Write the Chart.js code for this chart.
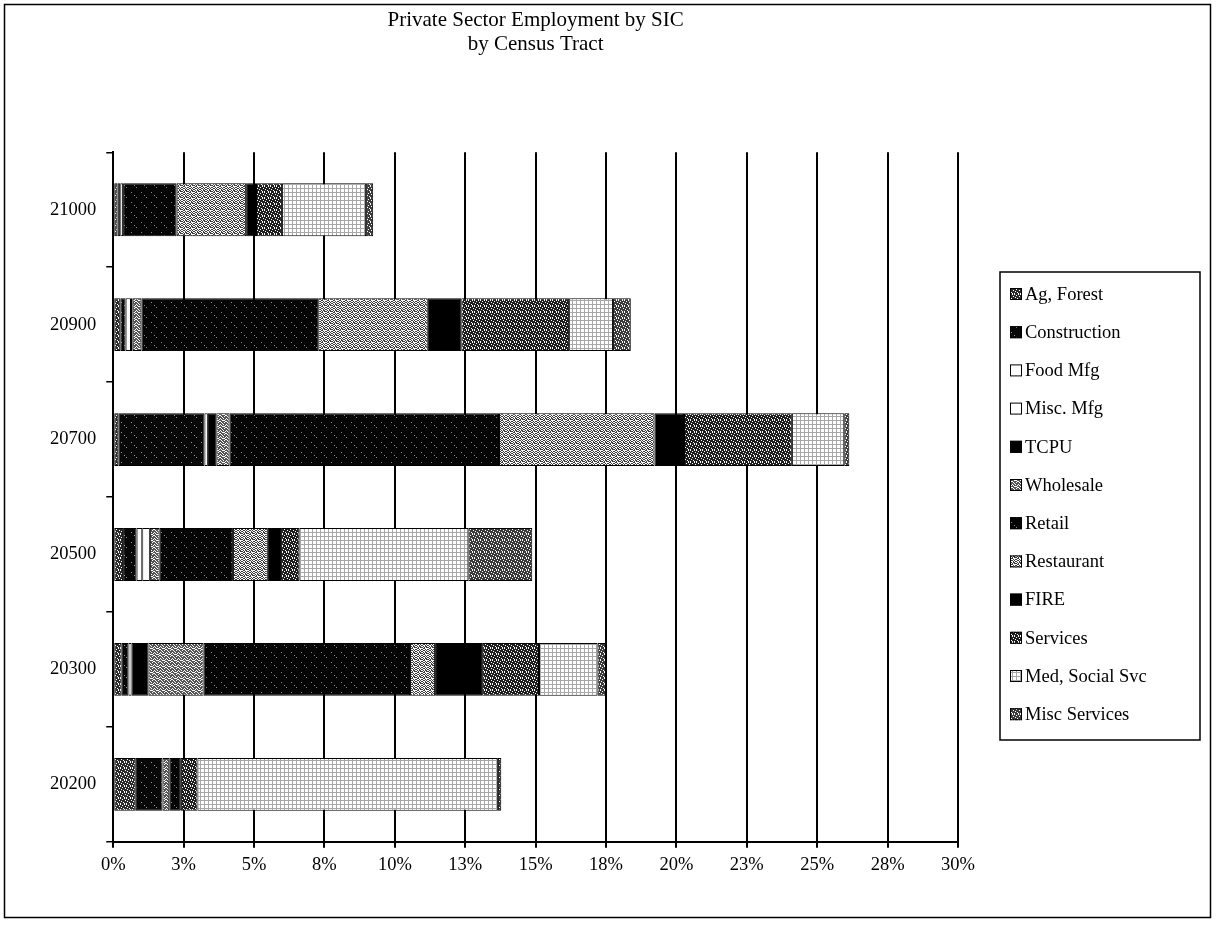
<!DOCTYPE html>
<html>
<head>
<meta charset="utf-8">
<script src="https://cdn.jsdelivr.net/npm/chart.js@4"></script>
<style>
  html, body { margin: 0; padding: 0; background: #fff; }
  #wrap { width: 1216px; height: 927px; }
</style>
</head>
<body>
<div id="wrap"><canvas id="graph-viewer" width="1216" height="927"></canvas></div>
<script>
// census tracts, top to bottom
const categories = ['21000', '20900', '20700', '20500', '20300', '20200'];
const tickLabels = ['0%', '3%', '5%', '8%', '10%', '13%', '15%', '18%', '20%', '23%', '25%', '28%', '30%'];

// share of private sector employment (%) by SIC group
const agForest     = [0.15, 0.25, 0.18, 0.35, 0.30, 0.80];
const construction = [0.10, 0.19, 3.06, 0.48, 0.24, 0.95];
const foodMfg      = [0.10, 0.19, 0.12, 0.20, 0.11, 0.00];
const miscMfg      = [0.00, 0.00, 0.00, 0.27, 0.00, 0.00];
const tcpu         = [0.00, 0.06, 0.30, 0.00, 0.60, 0.00];
const wholesale    = [0.00, 0.31, 0.47, 0.35, 1.96, 0.24];
const retail       = [1.90, 6.28, 9.57, 2.60, 7.33, 0.41];
const restaurant   = [2.47, 3.89, 5.52, 1.24, 0.89, 0.00];
const fire         = [0.35, 1.19, 1.05, 0.47, 1.67, 0.00];
const services     = [0.92, 3.83, 3.83, 0.65, 2.02, 0.59];
const medSocial    = [2.99, 1.56, 1.86, 6.00, 2.08, 10.67];
const miscServices = [0.25, 0.63, 0.18, 2.27, 0.30, 0.12];

const seriesNames = ['Ag, Forest', 'Construction', 'Food Mfg', 'Misc. Mfg', 'TCPU', 'Wholesale',
  'Retail', 'Restaurant', 'FIRE', 'Services', 'Med, Social Svc', 'Misc Services'];
const seriesData = [agForest, construction, foodMfg, miscMfg, tcpu, wholesale,
  retail, restaurant, fire, services, medSocial, miscServices];

// small b/w fill patterns, like the printed original
function makePattern(bg, fg, cells, size) {
  const c = document.createElement('canvas');
  c.width = size; c.height = size;
  const g = c.getContext('2d');
  g.fillStyle = bg;
  g.fillRect(0, 0, size, size);
  g.fillStyle = fg;
  cells.forEach(p => g.fillRect(p[0], p[1], 1, 1));
  return g.createPattern(c, 'repeat');
}
function gridPattern() {
  const c = document.createElement('canvas');
  c.width = 4; c.height = 4;
  const g = c.getContext('2d');
  g.fillStyle = '#fff';
  g.fillRect(0, 0, 4, 4);
  g.fillStyle = '#a8a8a8';
  g.fillRect(0, 0, 4, 1);
  g.fillRect(0, 0, 1, 4);
  return g.createPattern(c, 'repeat');
}

const sparse = [[1, 2], [6, 7], [4, 5]];
const speckle = [[0, 0], [2, 1], [4, 0], [1, 3], [5, 2], [3, 4], [0, 5], [4, 5]];
const mottled = [[0, 0], [1, 0], [3, 1], [4, 1], [2, 2], [5, 2], [0, 3], [1, 4], [4, 4], [3, 5], [5, 5], [2, 0]];
const lightMottle = [[0, 0], [1, 0], [3, 1], [4, 1], [2, 2], [5, 2], [0, 3], [1, 4], [4, 4], [3, 5],
  [5, 5], [2, 0], [5, 0], [1, 2], [3, 3], [0, 1], [2, 4], [4, 3]];

const fills = [
  makePattern('#2a2a2a', '#ffffff', speckle, 6),
  makePattern('#080808', '#999999', sparse, 10),
  '#ffffff',
  '#ffffff',
  '#000000',
  makePattern('#555555', '#ffffff', mottled, 6),
  makePattern('#050505', '#888888', sparse, 10),
  makePattern('#3c3c3c', '#ffffff', lightMottle, 6),
  '#000000',
  makePattern('#1e1e1e', '#ffffff', speckle, 6),
  gridPattern(),
  makePattern('#3a3a3a', '#ffffff', speckle, 6)
];

const serif = "'Liberation Serif', 'DejaVu Serif', serif";

const frameAndLegend = {
  id: 'frameAndLegend',
  beforeDraw(chart) {
    const ctx = chart.ctx;
    ctx.save();
    ctx.fillStyle = '#fff';
    ctx.fillRect(0, 0, chart.width, chart.height);
    ctx.restore();
  },
  afterDraw(chart) {
    const ctx = chart.ctx;
    ctx.save();
    ctx.strokeStyle = '#000';
    ctx.lineWidth = 1.5;
    ctx.strokeRect(4.5, 4.5, 1206, 913);

    // legend box
    const lx = 1000, ly = 272, lw = 200, lh = 468;
    ctx.lineWidth = 1.5;
    ctx.strokeRect(lx, ly, lw, lh);
    ctx.font = '18.5px ' + serif;
    ctx.textBaseline = 'middle';
    chart.data.datasets.forEach((ds, i) => {
      const y = 294 + i * 38.2;
      ctx.fillStyle = ds.backgroundColor;
      ctx.fillRect(1010, y - 6, 12, 12);
      ctx.lineWidth = 1;
      ctx.strokeStyle = '#000';
      ctx.strokeRect(1010.5, y - 5.5, 11, 11);
      ctx.fillStyle = '#000';
      ctx.fillText(ds.label, 1025, y + 1);
    });
    ctx.restore();
  }
};

const ctx = document.getElementById('graph-viewer').getContext('2d');
new Chart(ctx, {
  type: 'bar',
  data: {
    labels: categories,
    datasets: seriesData.map((d, i) => ({
      label: seriesNames[i],
      data: d,
      backgroundColor: fills[i],
      borderColor: '#000',
      borderWidth: 1,
      borderSkipped: false,
      categoryPercentage: 1,
      barPercentage: 0.46
    }))
  },
  options: {
    indexAxis: 'y',
    responsive: false,
    animation: false,
    layout: { padding: { top: 4, left: 40, right: 258, bottom: 45 } },
    plugins: {
      legend: { display: false },
      tooltip: { enabled: false },
      title: {
        display: true,
        fullSize: false,
        text: ['Private Sector Employment by SIC', 'by Census Tract'],
        color: '#000',
        font: { family: serif, size: 21, weight: 'normal', lineHeight: 1.15 },
        padding: { top: 4, bottom: 96 }
      }
    },
    scales: {
      x: {
        stacked: true,
        min: 0,
        max: 30,
        ticks: {
          stepSize: 2.5,
          color: '#000',
          font: { family: serif, size: 18.5 },
          padding: 6,
          maxRotation: 0,
          callback: (v, i) => tickLabels[i]
        },
        grid: { color: '#000', lineWidth: 2, tickLength: 6 },
        border: { color: '#000', width: 2 }
      },
      y: {
        stacked: true,
        ticks: {
          color: '#000',
          font: { family: serif, size: 18.5 },
          padding: 10
        },
        grid: { drawOnChartArea: false, color: '#000', lineWidth: 1.5, tickLength: 7 },
        border: { color: '#000', width: 2 }
      }
    }
  },
  plugins: [frameAndLegend]
});
</script>
</body>
</html>
